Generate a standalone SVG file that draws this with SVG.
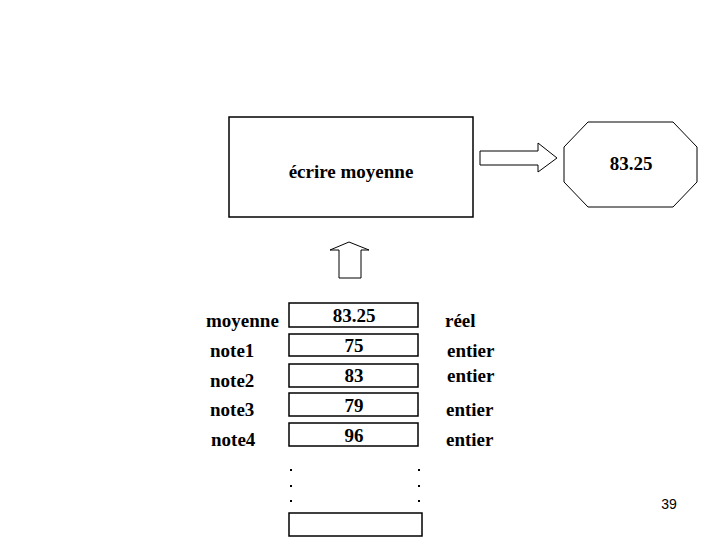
<svg xmlns="http://www.w3.org/2000/svg" width="720" height="540" viewBox="0 0 720 540">
<style>
text.t{font-family:"Liberation Serif","Times New Roman","DejaVu Serif",serif;font-weight:700;font-size:19px;fill:#000}
.s{fill:#fff;stroke:#000;stroke-width:1.5}
.a{fill:#fff;stroke:#000;stroke-width:1}
.d{fill:#000}
</style>
<rect width="720" height="540" fill="#fff"/>
<g id="ecrire">
<rect class="s" x="229" y="117" width="244" height="100"/>
<text class="t" font-family="Liberation Serif, serif" x="351" y="178" text-anchor="middle">écrire moyenne</text>
</g>
<g id="output">
<polygon class="a" points="588,122 673,122 697,147 697,182 673,207 588,207 564,182 564,147"/>
<text class="t" font-family="Liberation Serif, serif" x="631" y="170" text-anchor="middle">83.25</text>
</g>
<g id="connectors">
<polygon class="a" points="480,151 538,151 538,143 557,158 538,172 538,165 480,165"/>
<polygon class="a" points="349,242 369,250 361,250 361,278 339,278 339,250 330,250"/>
</g>
<g id="memory" font-family="Liberation Serif, serif">
<rect class="s" x="289" y="303" width="129" height="24"/>
<rect class="s" x="289" y="334" width="129" height="22"/>
<rect class="s" x="289" y="364" width="129" height="23"/>
<rect class="s" x="289" y="393" width="129" height="23"/>
<rect class="s" x="289" y="423" width="129" height="23"/>
<rect class="s" x="289" y="513" width="133" height="23"/>
<text class="t" x="354" y="322" text-anchor="middle">83.25</text>
<text class="t" x="354" y="352" text-anchor="middle">75</text>
<text class="t" x="354" y="382" text-anchor="middle">83</text>
<text class="t" x="354" y="412" text-anchor="middle">79</text>
<text class="t" x="354" y="442" text-anchor="middle">96</text>
<text class="t" x="206" y="327">moyenne</text>
<text class="t" x="210" y="357">note1</text>
<text class="t" x="210" y="387">note2</text>
<text class="t" x="210" y="416">note3</text>
<text class="t" x="211" y="446">note4</text>
<text class="t" x="445" y="327">réel</text>
<text class="t" x="447" y="357">entier</text>
<text class="t" x="447" y="382">entier</text>
<text class="t" x="446" y="416">entier</text>
<text class="t" x="446" y="446">entier</text>
<rect class="d" x="290" y="469" width="2" height="2"/>
<rect class="d" x="290" y="485" width="2" height="2"/>
<rect class="d" x="290" y="500" width="2" height="2"/>
<rect class="d" x="418" y="469" width="2" height="2"/>
<rect class="d" x="418" y="485" width="2" height="2"/>
<rect class="d" x="418" y="500" width="2" height="2"/>
</g>
<text x="669" y="509" text-anchor="middle" font-family="Liberation Sans, Arial, sans-serif" font-size="14" fill="#000">39</text>
</svg>
